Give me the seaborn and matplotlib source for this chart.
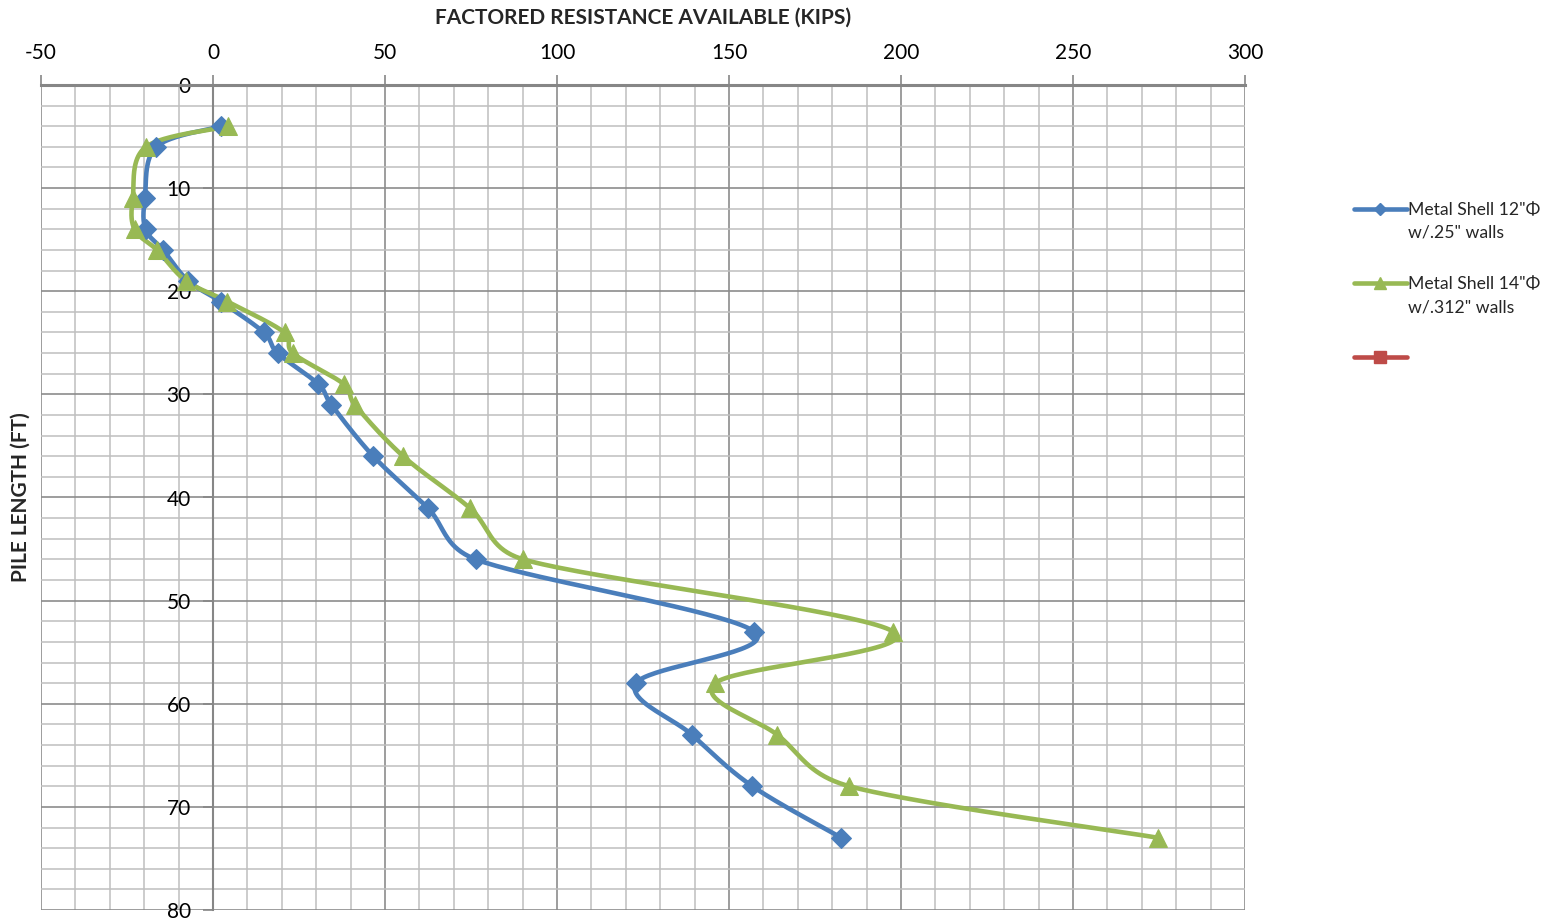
import numpy as np
import pandas as pd
import matplotlib
matplotlib.use("Agg")
import matplotlib.pyplot as plt
from matplotlib.lines import Line2D
from matplotlib.ticker import MultipleLocator
import seaborn as sns

# Pile length (ft) at each evaluated depth
pile_length = [4, 6, 11, 14, 16, 19, 21, 24, 26, 29, 31, 36, 41, 46, 53, 58, 63, 68, 73]

# Factored resistance available (kips)
shell_12 = [2.4, -16.5, -19.8, -19.6, -14.5, -7.2, 2.2, 14.8, 18.8, 30.6, 34.4, 46.6,
            62.4, 76.4, 157.3, 123.0, 139.2, 156.8, 182.7]
shell_14 = [4.5, -19.5, -23.3, -22.8, -16.3, -7.8, 4.2, 20.8, 23.2, 38.0, 41.2, 55.3,
            74.6, 90.2, 197.7, 146.0, 164.0, 185.0, 274.8]

# legend text: first line beside the key, second line underneath
series_names = ['Metal Shell 12"\u03a6', 'Metal Shell 14"\u03a6', ' ']
series_notes = ['w/.25" walls', 'w/.312" walls', '']
series_colors = ["#4A7EBB", "#98B954", "#BE4B48"]
series_markers = ["D", "^", "s"]

x_ticks = [-50, 0, 50, 100, 150, 200, 250, 300]
y_ticks = [0, 10, 20, 30, 40, 50, 60, 70, 80]

sns.set_theme(style="white")
plt.rcParams["font.family"] = ["Lato", "DejaVu Sans"]

fig = plt.figure(figsize=(15.53, 9.21), dpi=100)
ax = fig.add_axes([41 / 1553, 1 - 910 / 921, (1245 - 41) / 1553, (910 - 85) / 921])

XLIM = (-50, 300)
YLIM = (0, 80)
# pixel size of one data unit, so the smoothing works in screen space
sx = (1245 - 41) / (XLIM[1] - XLIM[0])
sy = (910 - 85) / (YLIM[1] - YLIM[0])


def smooth_curve(xs, ys, n=40):
    """Cubic Bezier through every point: Catmull-Rom handles, each capped
    at half the length of its own segment."""
    P = np.column_stack([np.asarray(xs, float) * sx, np.asarray(ys, float) * sy])
    ext = np.vstack([P[0], P, P[-1]])
    out = []
    t = np.linspace(0, 1, n)[:, None]
    for i in range(len(P) - 1):
        p0, p1, p2, p3 = ext[i], ext[i + 1], ext[i + 2], ext[i + 3]
        cap = 0.5 * np.hypot(*(p2 - p1))
        h1 = (p2 - p0) / 6.0
        h2 = (p3 - p1) / 6.0
        n1, n2 = np.hypot(*h1), np.hypot(*h2)
        if n1 > cap:
            h1 = h1 * cap / n1
        if n2 > cap:
            h2 = h2 * cap / n2
        c1 = p1 + h1
        c2 = p2 - h2
        seg = ((1 - t) ** 3) * p1 + 3 * ((1 - t) ** 2) * t * c1 + 3 * (1 - t) * t ** 2 * c2 + t ** 3 * p2
        out.append(seg if i == 0 else seg[1:])
    out = np.vstack(out)
    return out[:, 0] / sx, out[:, 1] / sy


for vals, color, marker, msize in [(shell_12, series_colors[0], "D", 10),
                                   (shell_14, series_colors[1], "^", 13)]:
    cx, cy = smooth_curve(vals, pile_length)
    curve = pd.DataFrame({"kips": cx, "ft": cy})
    sns.lineplot(data=curve, x="kips", y="ft", sort=False, estimator=None,
                 color=color, lw=3.3, ax=ax, zorder=3)
    pts = pd.DataFrame({"kips": vals, "ft": pile_length})
    sns.lineplot(data=pts, x="kips", y="ft", sort=False, estimator=None,
                 color=color, lw=0, marker=marker, markersize=msize,
                 markeredgecolor=color, ax=ax, zorder=4)

ax.set_xlim(*XLIM)
ax.set_ylim(YLIM[1], YLIM[0])

# grid: major and minor lines
ax.xaxis.set_minor_locator(MultipleLocator(10))
ax.yaxis.set_minor_locator(MultipleLocator(2))
ax.set_xticks(x_ticks)
ax.set_yticks(y_ticks)
ax.grid(which="minor", color="#BFBFBF", lw=1.1, zorder=0)
ax.grid(which="major", color="#8C8C8C", lw=1.2, zorder=0)
ax.set_axisbelow(True)

# axes: x on top, y crossing at x = 0
ax.xaxis.tick_top()
ax.xaxis.set_label_position("top")
for s in ["right", "bottom"]:
    ax.spines[s].set_visible(False)
ax.spines["left"].set_position(("data", 0))
ax.spines["left"].set_color("#868686")
ax.spines["left"].set_linewidth(1.5)
ax.spines["top"].set_color("#868686")
ax.spines["top"].set_linewidth(2.2)
ax.tick_params(axis="x", which="major", top=True, bottom=False, length=7, width=1.2,
               color="#868686", labelsize=15, pad=9, labelcolor="black")
ax.tick_params(axis="y", which="major", left=True, length=7, width=1.2,
               color="#868686", labelsize=15, pad=9, labelcolor="black")
ax.tick_params(which="minor", length=0)
ax.set_xticklabels([str(v) for v in x_ticks])
ax.set_yticklabels([str(v) for v in y_ticks])

ax.set_xlabel("FACTORED RESISTANCE AVAILABLE (KIPS)", fontsize=15, fontweight="bold", labelpad=14)
ax.set_ylabel("PILE LENGTH (FT)", fontsize=15, fontweight="bold")
ax.yaxis.set_label_coords(-0.009, 0.5)

LEG_FS = 12.7
handles = [Line2D([0], [0], color=c, lw=3.3, marker=m, markersize=ms, markeredgecolor=c)
           for c, m, ms in zip(series_colors, series_markers, [6, 8, 8])]
leg = fig.legend(handles, series_names, loc="upper left",
                 bbox_to_anchor=(1345 / 1553, 1 - 193 / 921),
                 frameon=False, fontsize=LEG_FS, handlelength=3.0, handletextpad=0.1,
                 labelspacing=3.3, borderpad=0)

# second line of each legend label, set just below the first
fig.canvas.draw()
inv = fig.transFigure.inverted()
for txt, note in zip(leg.get_texts(), series_notes):
    if not note:
        continue
    bb = txt.get_window_extent()
    x0, y0 = inv.transform((bb.x0, bb.y0))
    fig.text(x0, y0 - 23 / 921, note, fontsize=LEG_FS, ha="left", va="bottom",
             color=txt.get_color())

fig.savefig("out.png", dpi=100)
